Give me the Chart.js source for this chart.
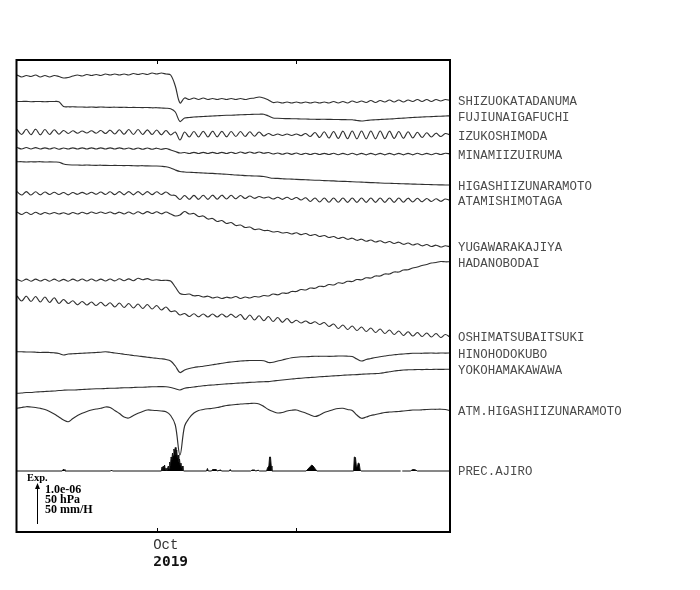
<!DOCTYPE html>
<html>
<head>
<meta charset="utf-8">
<title>Strain records</title>
<script src="https://cdn.jsdelivr.net/npm/chart.js@4"></script>
<style>
  body { margin: 0; background: #fff; }
  canvas { display: block; }
</style>
</head>
<body>
<canvas id="chart" width="700" height="590"></canvas>
<script>
// ----------------------------
// Data (display units; daily samples from Sep 1)
// ----------------------------
const days = Array.from({ length: 94 }, (_, i) => i);

const stationNames = [
    'SHIZUOKATADANUMA', 'FUJIUNAIGAFUCHI', 'IZUKOSHIMODA', 'MINAMIIZUIRUMA',
    'HIGASHIIZUNARAMOTO', 'ATAMISHIMOTAGA', 'YUGAWARAKAJIYA', 'HADANOBODAI',
    'OSHIMATSUBAITSUKI', 'HINOHODOKUBO', 'YOKOHAMAKAWAWA', 'ATM.HIGASHIIZUNARAMOTO'
];

const shizuoka = [
    75, 77, 75.5, 76.5, 75, 77, 75.5, 77, 75.5, 76.5,
    78, 77.5, 76, 75, 76, 74.5, 75.5, 74.5, 75.5, 74,
    75, 74, 75, 74, 75, 73.5, 74.5, 73.5, 74.5, 73,
    74, 73, 74, 75, 86, 103, 98, 99.5, 98, 99.5,
    98, 99.5, 98.5, 99.5, 98.5, 99.5, 98.5, 99.5, 98.5, 99.5,
    98.5, 98, 97, 98, 100, 102.5, 102, 103, 102, 103,
    102, 103, 102, 103, 102, 103, 102, 103, 101.5, 103,
    101.5, 103, 101, 102.5, 101, 102.5, 100.5, 102.5, 100.5, 102,
    100, 102, 100, 102, 100, 101.5, 99.5, 101.5, 99.5, 101.5,
    99.5, 101, 99.5, 100.5
];
const fujiunai = [
    101.5, 101.5, 101.4, 101.7, 101.5, 101.5, 101.7, 101.5, 101.5, 101.8,
    106.5, 106.8, 106.8, 107, 107, 107.2, 107, 107.3, 107, 107.2,
    107.3, 107.2, 107.4, 107.3, 107.5, 107.4, 107.5, 107.6, 107.5, 107.8,
    107.7, 108, 108.2, 108.8, 112, 121.5, 118, 117.5, 117, 116.8,
    116.5, 116.3, 116, 115.8, 115.5, 115.3, 115.2, 115, 114.8, 114.6,
    114.5, 114.3, 114.2, 114.2, 116, 118, 118.3, 118.5, 118.6, 118.7,
    118.8, 119, 119, 119.2, 119.3, 119.3, 119.3, 119.4, 119.5, 119.5,
    119.6, 119.7, 119.8, 120.5, 121, 120.5, 120, 119.8, 119.5, 119.2,
    119, 118.7, 118.4, 118.1, 117.8, 117.5, 117.2, 117, 116.8, 116.6,
    116.4, 116.2, 116, 115.8
];
const izukoshimoda = [
    129.5, 134.5, 129.3, 134.7, 129.2, 134.8, 129.5, 134.5, 129.8, 134.2,
    130.5, 133.5, 130.8, 133.2, 131, 133, 130.8, 133.2, 130.5, 133.5,
    130.2, 134, 129.8, 134.3, 129.5, 134.5, 129.5, 134.5, 129.8, 134.5,
    130, 134.8, 130.5, 135, 132, 140, 132, 137, 131.5, 137,
    131.2, 137, 131.2, 136.8, 131.3, 136.8, 131.5, 136.5, 131.5, 136.5,
    131.8, 136.2, 132, 136, 133.5, 135.5, 134, 135.5, 134, 135.5,
    134, 135.7, 133.5, 136.5, 132.5, 137.5, 131.8, 138, 131.5, 138.5,
    131.2, 138.7, 131, 138.8, 131, 138.8, 131, 138.8, 131, 138.7,
    131.2, 138.5, 131.5, 138.3, 131.8, 138, 132.3, 137.5, 132.8, 137,
    133.2, 136.5, 133.5, 135
];
const minamiizu = [
    147.5, 149, 147.5, 149, 147.6, 149, 147.8, 149, 147.8, 149.2,
    148, 149, 147.8, 149, 147.8, 149, 147.8, 149, 147.8, 149,
    147.8, 149, 147.8, 149, 148, 149.2, 148, 149.2, 148, 149.2,
    148.2, 149.3, 148.5, 150, 151.5, 153, 152.5, 153.5, 152.3, 153.5,
    152.3, 153.5, 152.3, 153.5, 152.3, 153.5, 152.2, 153.5, 152, 153.3,
    152, 153.2, 152, 153.3, 152.5, 154, 153, 154.2, 153, 154.3,
    153, 154.5, 153.2, 154.5, 153.2, 154.5, 153.3, 154.5, 153.3, 154.7,
    153.3, 154.7, 153.3, 154.8, 153.3, 154.8, 153.3, 154.8, 153.3, 154.8,
    153.3, 154.8, 153.3, 154.8, 153.3, 154.8, 153.3, 154.7, 153.3, 154.7,
    153.3, 154.5, 153.3, 154
];
const higashiizu = [
    161.8, 161.7, 162, 161.8, 161.9, 161.7, 162, 161.9, 162, 162.2,
    164, 164.8, 165, 165, 165.2, 165, 165.2, 165.3, 165.2, 165.4,
    165.5, 165.4, 165.5, 165.6, 165.5, 165.7, 165.8, 165.7, 165.9, 166,
    166, 166.3, 166.8, 168, 170, 171.5, 172, 172.3, 172.5, 172.8,
    173, 173.3, 173.4, 173.8, 174, 174.2, 174.6, 175, 175.2, 175.6,
    175.8, 176, 176.1, 176.5, 177.5, 178.3, 178.4, 178.7, 179, 179.1,
    179.4, 179.6, 179.7, 180, 180.2, 180.3, 180.6, 180.8, 180.9, 181.2,
    181.4, 181.5, 181.8, 182, 182.1, 182.4, 182.6, 182.7, 183, 183.2,
    183.3, 183.5, 183.6, 183.8, 183.9, 184.1, 184.2, 184.4, 184.5, 184.6,
    184.8, 184.9, 185, 185
];
const atami = [
    191.6, 195, 191.6, 195, 191.8, 194.8, 192, 194.5, 192.2, 194.5,
    192.5, 194.8, 192.5, 194.3, 192.3, 194.3, 192.2, 194.3, 192, 194.5,
    191.8, 194.6, 191.6, 194.8, 191.6, 194.8, 191.6, 194.8, 191.6, 194.6,
    191.8, 194.5, 192, 195, 195.5, 199.5, 195.5, 199.3, 195.3, 199.3,
    195.2, 199.3, 195.2, 199.2, 195.2, 199, 195.3, 198.8, 195.5, 198.5,
    196, 198.3, 196.5, 198, 197, 199, 197.3, 199.3, 197.3, 199.5,
    197.5, 200, 197.8, 201.5, 198, 202, 198, 202.2, 198, 202.2,
    198, 202.3, 198, 202.3, 198, 202.3, 198, 202.3, 198, 202.3,
    198, 202.3, 198, 202.2, 198.2, 202, 198.3, 201.8, 198.5, 201.5,
    198.8, 201.3, 199, 200.5
];
const yugawara = [
    212, 214.5, 212.2, 214.5, 212.3, 214.3, 212.5, 214, 212.5, 214,
    212.8, 214.3, 212.5, 214, 212.3, 213.8, 212, 213.5, 212, 213.5,
    212, 213.8, 212.2, 214, 212, 214, 211.8, 213.8, 211.6, 213.5,
    211.8, 213.8, 212, 214, 216, 215, 211.5, 214, 213.5, 216.5,
    216, 219, 218.5, 221.5, 220.5, 223.5, 222.5, 225.5, 225, 227.5,
    227, 229.5, 229, 230.5, 230.5, 232, 231.5, 233, 232.5, 234,
    232.8, 234.6, 233.5, 235.5, 234.5, 236.5, 235.5, 237.5, 236.5, 238.5,
    237.3, 239.3, 238.2, 240.3, 239.2, 241.2, 240, 242, 240.8, 242.8,
    241.5, 243.5, 242.2, 244.3, 243, 245, 243.8, 245.8, 244.5, 246.5,
    245.2, 247, 245.8, 246.8
];
const hadano = [
    279.3, 281.2, 279.1, 281.2, 279.1, 281, 279.3, 281.2, 279.1, 281.2,
    279.3, 281.2, 279.1, 281, 279, 281, 279, 281, 279.1, 281,
    279, 280.9, 278.8, 280.7, 278.8, 280.7, 278.3, 279.7, 278.6, 280.2,
    279.8, 280.5, 280.3, 281, 287, 293.5, 294.5, 294, 295.8, 295.5,
    297, 296.2, 298, 297, 298.5, 297.2, 298, 296.5, 298.5, 297,
    298, 296.5, 297, 295.5, 296, 294, 294.8, 293, 293.3, 291.5,
    291.5, 289.5, 290, 288, 288.3, 286.3, 286.5, 284.5, 285, 282.8,
    283.3, 281.3, 281.5, 279.5, 279.8, 277.8, 278, 276, 276, 274,
    274, 272, 272, 270, 269.8, 268, 267, 265.5, 264.5, 263,
    262.5, 261.5, 261.8, 261.7
];
const oshima = [
    296, 301, 296.2, 301.5, 296.5, 302, 297, 302.5, 297.8, 303.5,
    299.5, 303.5, 300.8, 304.8, 301.5, 305, 302, 305.5, 302.3, 306,
    302.8, 307, 303, 307.5, 303.5, 308, 304, 308.5, 304.5, 309,
    305.5, 310, 307, 311.5, 311, 315, 313.5, 316.5, 313.8, 316.8,
    314, 317, 314, 317, 314, 317, 314.2, 317.5, 314.5, 319.5,
    315, 320, 315.8, 320.7, 316.5, 321.5, 317.5, 322.3, 318.5, 322.8,
    320.3, 323, 321, 323.5, 321.8, 324.5, 322.5, 326.5, 324, 328.5,
    325, 329.5, 326, 330.5, 327, 331.5, 328, 332.5, 329, 333.5,
    330, 334.5, 331, 335.5, 331.8, 336, 332.5, 336.5, 333, 337,
    333.5, 337.5, 334.5, 337
];
const hinohodokubo = [
    351.7, 351.8, 352, 352, 352.2, 352.5, 352.3, 352.5, 352.8, 353.5,
    355, 354, 353.8, 353.5, 353.3, 353, 352.8, 352.5, 352.2, 351.8,
    352.3, 353, 353.5, 354.2, 354.8, 355.5, 356, 356.6, 357.2, 357.8,
    358.3, 358.8, 359.5, 361, 366, 372.5, 370, 368.5, 367.5, 366.8,
    366.2, 365.5, 364.8, 364, 363.3, 362.5, 362, 361.5, 361, 360.8,
    360.5, 360.5, 360.5, 360.7, 362.5, 362.3, 361, 360, 358.8, 357.8,
    357.2, 356.8, 356.7, 356.5, 356.3, 356.3, 356.2, 356.3, 356.2, 356,
    356, 356.2, 356.5, 359, 361, 359.5, 358.5, 357.5, 356.7, 356,
    355.3, 354.8, 354.3, 354, 353.6, 353.3, 353.2, 353.3, 353.1, 353,
    353.2, 353, 353.1, 353
];
const yokohama = [
    393.3, 393, 392.5, 392.5, 392, 391.8, 391.5, 391.2, 391, 390.5,
    390.2, 390, 390, 389.8, 389.5, 389.3, 389, 388.8, 388.7, 388.5,
    388.3, 388.2, 388, 387.8, 387.7, 387.5, 387.3, 387.2, 387, 386.8,
    386.7, 386.6, 386.7, 387.5, 388.8, 390, 388.3, 387.5, 387, 386.3,
    385.8, 385.3, 385, 384.6, 384.2, 383.9, 383.6, 383.3, 383, 382.7,
    382.4, 382.2, 381.9, 381.7, 381.6, 381, 380.5, 380, 379.5, 379,
    378.5, 378.2, 377.8, 377.5, 377.2, 376.8, 376.5, 376.2, 375.9, 375.6,
    375.3, 375, 374.8, 374.6, 374.3, 374, 373.8, 373.6, 373.3, 372.5,
    371.8, 371, 370.5, 370, 369.8, 369.7, 369.5, 369.6, 369.4, 369.5,
    369.3, 369.4, 369.3, 369.3
];
const atmPressure = [
    408.3, 407.5, 406.7, 407, 407.5, 408.3, 409.5, 411.5, 414, 417,
    420, 421.7, 418.5, 415.5, 413.3, 411.5, 410, 409, 408.3, 407,
    407.5, 410.5, 413.5, 417, 418, 415.5, 413.3, 411.5, 410, 410.2,
    410.5, 411, 411.7, 415.5, 425, 455, 426, 418, 413, 410.5,
    409.5, 408.8, 408.3, 407.5, 406.5, 405.5, 405, 404.5, 404, 403.7,
    403.5, 403.3, 404, 406.5, 409.5, 411.5, 413, 412.5, 411, 410.2,
    410, 411.5, 413, 415, 416.5, 415, 412.5, 411, 409.5, 408.5,
    408.3, 409.5, 410.5, 415, 418.3, 417, 415.5, 414.5, 413.5, 412.5,
    412, 411.7, 411.5, 411, 410.5, 410, 410, 409.8, 409.5, 409.3,
    409.3, 409.2, 409.5, 410.7
];

// precipitation (Ajiro): its own sample days, null = missing
const precName = 'PREC.AJIRO';
const precDays = [
    0, 9.7, 9.9, 10.1, 10.3, 20.1, 20.3, 20.5,
    31.0, 31.15, 31.3, 31.4, 31.55, 31.7, 31.85, 32.0, 32.15, 32.3, 32.5, 32.65,
    32.8, 32.95, 33.1, 33.25, 33.4, 33.55, 33.7, 33.85, 34.0, 34.15,
    34.3, 34.45, 34.6, 34.75, 34.9, 35.05, 35.2, 35.35, 35.5, 35.65, 35.8,
    40.7, 40.9, 41.1, 41.8, 42.0, 42.8, 43.0, 43.7, 44.0, 45.6, 45.8, 46.0,
    50.2, 50.5, 51.0, 51.3, 51.8, 52.1,
    53.6, 53.8, 54.1, 54.25, 54.45, 54.6, 54.75,
    62.1, 62.5, 63.0, 63.3, 63.6, 64.0, 64.4,
    72.3, 72.45, 72.7, 72.9, 73.1, 73.3, 73.5, 73.7, 73.9,
    82.4, 82.5, 82.75, 84.5, 85.0, 85.5, 86.0, 93
];
const precLevels = [
    471, 471, 469.5, 469.5, 471, 471, 470, 471,
    471, 467, 471, 466, 468, 465, 470, 468, 471, 469, 466, 469,
    462, 466, 457, 460, 453, 456, 449, 452, 447.5, 455,
    450, 458, 455, 462, 459, 465, 463, 468, 466, 470, 471,
    471, 468.5, 471, 471, 469.5, 469.5, 471, 470, 471, 471, 469.5, 471,
    471, 470, 470, 471, 470.2, 471,
    471, 468, 466, 457, 457, 466, 471,
    471, 469, 466.5, 465, 466, 468.5, 471,
    471, 457, 457.5, 467, 467, 463, 463.5, 470, 471,
    471, null, 471, 471, 469.5, 469.8, 471, 471
];
const precZero = 471;

// month ticks (day index) and their labels
const monthTicks = [30, 60];
const monthLabels = ['Oct', ''];
const yearLabel = '2019';
const scaleNotes = ['1.0e-06', '50 hPa', '50 mm/H'];

const traces = [shizuoka, fujiunai, izukoshimoda, minamiizu, higashiizu, atami,
    yugawara, hadano, oshima, hinohodokubo, yokohama, atmPressure];

// ----------------------------
// Build datasets
// ----------------------------
const datasets = traces.map((vals, i) => ({
    label: stationNames[i],
    data: vals.map((v, k) => ({ x: days[k], y: v })),
    borderColor: '#303030',
    borderWidth: 1.15,
    pointRadius: 0,
    tension: 0.35
}));

datasets.push({
    label: precName,
    data: precDays.map((d, k) => ({ x: d, y: precLevels[k] })),
    borderColor: '#111',
    backgroundColor: '#000',
    borderWidth: 1,
    pointRadius: 0,
    tension: 0,
    spanGaps: false,
    fill: { value: precZero }
});

// ----------------------------
// Frame, ticks and text
// ----------------------------
const decorations = {
    id: 'decorations',
    afterDraw(chart) {
        const { ctx, chartArea: a, scales: { x, y } } = chart;
        ctx.save();

        ctx.strokeStyle = '#000';
        ctx.lineWidth = 2;
        ctx.strokeRect(a.left - 0.5, a.top, a.right - a.left + 0.5, a.bottom - a.top);

        ctx.lineWidth = 1;
        monthTicks.forEach(d => {
            const px = Math.round(x.getPixelForValue(d)) + 0.5;
            ctx.beginPath();
            ctx.moveTo(px, a.top);
            ctx.lineTo(px, a.top + 4);
            ctx.moveTo(px, a.bottom);
            ctx.lineTo(px, a.bottom - 4);
            ctx.stroke();
        });

        // month / year
        ctx.textAlign = 'left';
        ctx.textBaseline = 'middle';
        monthTicks.forEach((d, i) => {
            if (!monthLabels[i]) return;
            const px = x.getPixelForValue(d) - 3.5;
            ctx.fillStyle = '#333';
            ctx.font = '14px "Liberation Mono"';
            ctx.fillText(monthLabels[i], px, a.bottom + 13);
            ctx.font = 'bold 14.5px "DejaVu Sans Mono"';
            ctx.fillStyle = '#111';
            ctx.fillText(yearLabel, px, a.bottom + 30);
        });

        // station names at the right end of each trace
        ctx.font = '12.4px "Liberation Mono"';
        ctx.fillStyle = '#4a4a4a';
        chart.data.datasets.forEach(ds => {
            const tail = ds.data.slice(-4).map(p => p.y);
            const level = tail.reduce((s, v) => s + v, 0) / tail.length + 1.8;
            ctx.fillText(ds.label, a.right + 8, y.getPixelForValue(level));
        });

        // scale key
        ctx.fillStyle = '#000';
        ctx.font = 'bold 10.5px "Liberation Serif"';
        ctx.fillText('Exp.', a.left + 10, 478.5);
        ctx.font = 'bold 12px "Liberation Serif"';
        scaleNotes.forEach((t, i) => ctx.fillText(t, a.left + 28, 489.5 + i * 10.3));
        const ax = a.left + 20.5;
        ctx.beginPath();
        ctx.moveTo(ax, 524);
        ctx.lineTo(ax, 487);
        ctx.stroke();
        ctx.beginPath();
        ctx.moveTo(ax, 483);
        ctx.lineTo(ax - 2.5, 489);
        ctx.lineTo(ax + 2.5, 489);
        ctx.closePath();
        ctx.fill();

        ctx.restore();
    }
};

new Chart(document.getElementById('chart'), {
    type: 'line',
    data: { datasets },
    options: {
        responsive: false,
        animation: false,
        layout: { padding: { left: 17, right: 250, top: 60, bottom: 58 } },
        plugins: { legend: { display: false }, tooltip: { enabled: false } },
        scales: {
            x: { type: 'linear', min: 0, max: 93, display: false },
            y: { type: 'linear', min: 60, max: 532, reverse: true, display: false }
        }
    },
    plugins: [decorations]
});
</script>
</body>
</html>
